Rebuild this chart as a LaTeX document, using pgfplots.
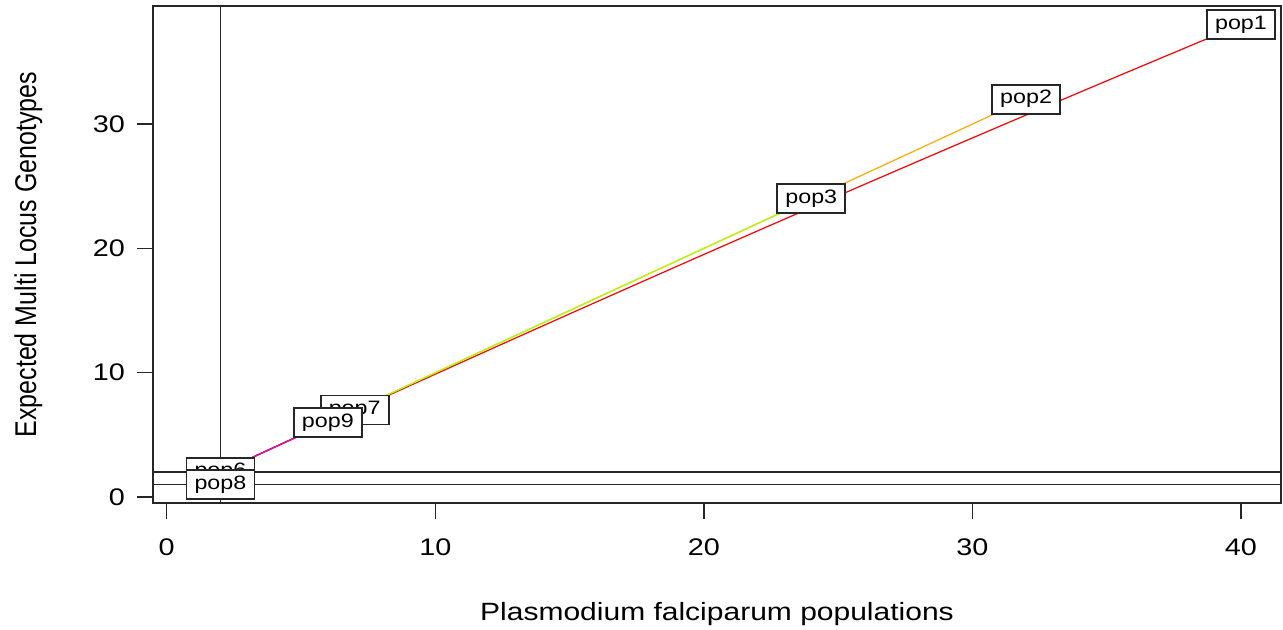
\documentclass[border=0pt]{standalone}
\usepackage{fontspec}
\setmainfont{Liberation Sans}[FakeStretch=1.2]
\newfontfamily\ylabfont{Liberation Sans}[FakeStretch=0.8333]
\usepackage{pgfplots}
\pgfplotsset{compat=1.18}
\definecolor{c1}{HTML}{FF0000}
\definecolor{c2}{HTML}{FFAA00}
\definecolor{c3}{HTML}{AAFF00}
\definecolor{c6}{HTML}{00AAFF}
\definecolor{c7}{HTML}{0000FF}
\definecolor{c8}{HTML}{AA00FF}
\definecolor{c9}{HTML}{FF00AA}
\pgfplotstableread{
x y
1 1.000
2 1.997
3 2.992
4 3.985
5 4.974
6 5.962
7 6.946
8 7.928
9 8.908
10 9.885
11 10.859
12 11.831
13 12.800
14 13.767
15 14.731
16 15.692
17 16.651
18 17.608
19 18.562
20 19.513
21 20.462
22 21.408
23 22.351
24 23.292
25 24.231
26 25.167
27 26.100
28 27.031
29 27.959
30 28.885
31 29.808
32 30.728
33 31.646
34 32.562
35 33.474
36 34.385
37 35.292
38 36.197
39 37.100
40 38.000
}\popone
\begin{document}
\begin{tikzpicture}
\useasboundingbox (-76.5pt,-63pt) rectangle (565pt,251.5pt);
\begin{axis}[
  at={(0,0)}, anchor=south west,
  scale only axis, width=564pt, height=248.4pt,
  xmin=-0.51, xmax=41.49, ymin=-0.48, ymax=39.48,
  xtick={0,10,20,30,40}, ytick={0,10,20,30},
  tick align=outside, xtick pos=bottom, ytick pos=left,
  major tick length=8pt,
  tick style={black!85, line width=0.7pt},
  axis line style={black!85, line width=0.9pt},
  /pgf/number format/assume math mode=true,
  ticklabel style={font=\fontsize{12}{14}\selectfont},
  xticklabel style={yshift=-6.5pt},
  yticklabel style={xshift=-2.5pt},
  clip=true,
  xlabel={Plasmodium falciparum populations},
  ylabel={\ylabfont Expected Multi Locus Genotypes},
  xlabel style={at={(axis description cs:0.5,-0.2355)}, anchor=base, font=\fontsize{12.5}{15}\selectfont},
  ylabel style={at={(axis description cs:-0.1037,0.5)}, anchor=base, font=\fontsize{15}{18}\selectfont},
]
\addplot[c1, line width=0.6pt] table {\popone};
\addplot[c2, line width=0.6pt] coordinates {(1,1) (32,32)};
\addplot[c3, line width=0.6pt] coordinates {(1,1) (24,24)};
\addplot[c6, line width=0.6pt] coordinates {(1,1) (2,2)};
\addplot[c7, line width=0.6pt] coordinates {(1,1) (7,7)};
\addplot[c8, line width=0.6pt] coordinates {(1,1) (2,1)};
\addplot[c9, line width=0.6pt] coordinates {(1,1) (6,6)};
\addplot[black!85, line width=0.8pt] coordinates {(2,-5) (2,45)};
\addplot[black!85, line width=0.8pt] coordinates {(-5,1) (45,1)};
\addplot[black!85, line width=0.8pt] coordinates {(-5,2) (45,2)};
\addplot[draw=none, mark=none, nodes near coords, point meta=explicit symbolic,
  every node near coord/.append style={anchor=center, draw=black!85, fill=white,
    line width=0.9pt, font=\fontsize{9.7}{11}\selectfont, text=black,
    minimum width=34pt, minimum height=14.5pt, inner sep=0pt}]
  table[meta=label] {
x y label
40 38 pop1
32 32 pop2
24 24 pop3
2 2 pop6
7 7 pop7
2 1 pop8
6 6 pop9
};
\end{axis}
\end{tikzpicture}
\end{document}
